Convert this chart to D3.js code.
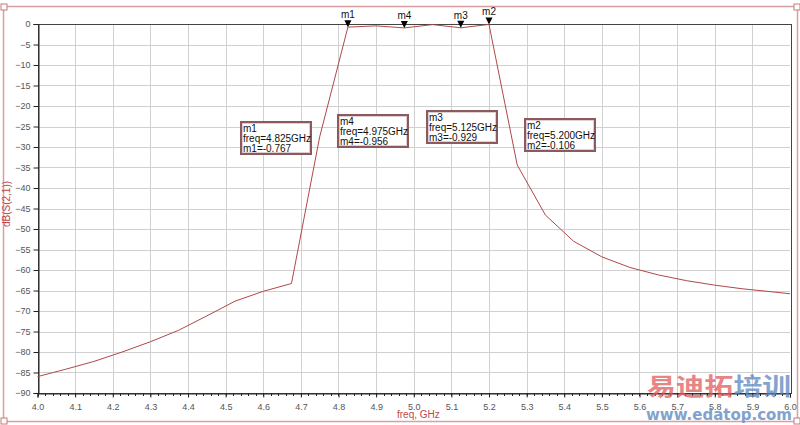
<!DOCTYPE html>
<html>
<head>
<meta charset="utf-8">
<script src="https://cdn.jsdelivr.net/npm/d3@7/dist/d3.min.js"></script>
<style>
    body { margin: 0; background: #fff; }
    svg { display: block; font-family: "Liberation Sans", Arial, sans-serif; }
    .grid line { stroke: #d0d0d0; stroke-width: 1; }
    .axis text { fill: #555; font-size: 9px; }
    .line { fill: none; stroke: #b04848; stroke-width: 1; }
</style>
</head>
<body>
<div id="chart"></div>
<script>
// frequency samples (GHz) and dB(S(2,1))
var FREQS = [4.000, 4.075, 4.150, 4.225, 4.300, 4.375, 4.450, 4.525, 4.600, 4.675,
             4.750, 4.825, 4.900, 4.975, 5.050, 5.125, 5.200, 5.275, 5.350, 5.425,
             5.500, 5.575, 5.650, 5.725, 5.800, 5.875, 5.950, 6.000];
var S21 = [-86.0, -84.2, -82.3, -80.0, -77.5, -74.7, -71.2, -67.6, -65.2, -63.3,
           -27.5, -0.767, -0.45, -0.956, -0.15, -0.929, -0.106, -34.4, -46.6, -53.0,
           -56.8, -59.4, -61.2, -62.6, -63.7, -64.6, -65.3, -65.8];

// markers
var MARKER_NAMES = ["m1", "m4", "m3", "m2"];
var MARKER_FREQS = [4.825, 4.975, 5.125, 5.200];
var MARKER_VALUES = [-0.767, -0.956, -0.929, -0.106];
var MARKER_FREQ_TEXT = ["4.825GHz", "4.975GHz", "5.125GHz", "5.200GHz"];
var MARKER_VALUE_TEXT = ["-0.767", "-0.956", "-0.929", "-0.106"];

// ticks
var X_TICKS = d3.range(0, 21).map(function (i) { return 4 + i / 10; });
var X_MINOR = d3.range(0, 101).map(function (i) { return 4 + i / 50; });
var Y_TICKS = d3.range(0, 19).map(function (i) { return -5 * i; });

var X_LABEL = "freq, GHz";
var Y_LABEL = "dB(S(2,1))";

// where the marker readout boxes sit (pixels, left/top)
var BOX_POS = {
    m1: [241, 122],
    m4: [338, 115],
    m3: [427, 111],
    m2: [525, 119]
};

var width = 800, height = 425;
var plot = {left: 37.5, right: 790, top: 24, bottom: 393};

var svg = d3.select("#chart")
    .append("svg")
        .attr("width", width)
        .attr("height", height);

// outer frame with the little corner handles
svg.append("rect")
    .attr("x", 3.5).attr("y", 6.5)
    .attr("width", 794).attr("height", 415)
    .attr("fill", "none")
    .attr("stroke", "#d9a0a0")
    .attr("stroke-width", 1.5);
[[4, 7], [797, 7], [4, 421], [797, 421]].forEach(function (c) {
    svg.append("rect")
        .attr("x", c[0] - 3).attr("y", c[1] - 3)
        .attr("width", 6).attr("height", 6)
        .attr("fill", "#fff")
        .attr("stroke", "#c87878")
        .attr("stroke-width", 1);
});

var x = d3.scaleLinear().domain([4, 6]).range([plot.left, plot.right]);
var y = d3.scaleLinear().domain([-90, 0]).range([plot.bottom, plot.top]);

// grid
var grid = svg.append("g").attr("class", "grid");
grid.selectAll("line.v")
    .data(X_TICKS.slice(1, -1))
    .enter().append("line")
    .attr("class", "v")
    .attr("x1", function (d) { return Math.round(x(d)) + 0.5; })
    .attr("x2", function (d) { return Math.round(x(d)) + 0.5; })
    .attr("y1", plot.top).attr("y2", plot.bottom);
grid.selectAll("line.h")
    .data(Y_TICKS.slice(1, -1))
    .enter().append("line")
    .attr("class", "h")
    .attr("y1", function (d) { return Math.round(y(d)) + 0.5; })
    .attr("y2", function (d) { return Math.round(y(d)) + 0.5; })
    .attr("x1", plot.left).attr("x2", plot.right);

// plot border
svg.append("rect")
    .attr("x", Math.round(plot.left) + 0.5).attr("y", plot.top + 0.5)
    .attr("width", Math.round(plot.right - plot.left)).attr("height", plot.bottom - plot.top)
    .attr("fill", "none")
    .attr("stroke", "#444")
    .attr("stroke-width", 1);

// X axis: majors with labels, minors below
var xAxis = d3.axisBottom(x)
    .tickValues(X_TICKS)
    .tickSize(4)
    .tickPadding(6)
    .tickFormat(d3.format(".1f"));
var gx = svg.append("g")
    .attr("class", "x axis")
    .attr("transform", "translate(0," + (plot.bottom + 0.5) + ")")
    .call(xAxis);
gx.select(".domain").attr("stroke", "#222");
gx.selectAll(".tick line").attr("stroke", "#222");

svg.append("g")
    .attr("class", "x minor")
    .attr("transform", "translate(0," + (plot.bottom + 0.5) + ")")
    .selectAll("line")
    .data(X_MINOR)
    .enter().append("line")
    .attr("x1", function (d) { return Math.round(x(d)) + 0.5; })
    .attr("x2", function (d) { return Math.round(x(d)) + 0.5; })
    .attr("y1", 0).attr("y2", 2.5)
    .attr("stroke", "#222");

// Y axis
var yAxis = d3.axisLeft(y)
    .tickValues(Y_TICKS)
    .tickSize(5)
    .tickPadding(3)
    .tickFormat(d3.format("d"));
var gy = svg.append("g")
    .attr("class", "y axis")
    .attr("transform", "translate(" + (Math.round(plot.left) + 0.5) + ",0)")
    .call(yAxis);
gy.select(".domain").attr("stroke", "#222");
gy.selectAll(".tick line").attr("stroke", "#222");

// axis titles
svg.append("text")
    .attr("x", 397).attr("y", 418)
    .attr("font-size", 10)
    .attr("fill", "#c04848")
    .text(X_LABEL);
svg.append("text")
    .attr("transform", "translate(10,204) rotate(-90)")
    .attr("text-anchor", "middle")
    .attr("font-size", 10)
    .attr("fill", "#c04848")
    .text(Y_LABEL);

// the trace
var data = FREQS.map(function (f, i) { return {f: f, v: S21[i]}; });
var valueline = d3.line()
    .x(function (d) { return x(d.f); })
    .y(function (d) { return y(d.v); });
svg.append("path")
    .datum(data)
    .attr("class", "line")
    .attr("d", valueline);

// watermark (sits over the tick labels, as in the original)
svg.append("text")
    .attr("x", 647).attr("y", 395)
    .attr("font-size", 24)
    .attr("font-weight", "bold")
    .attr("font-family", "Noto Sans CJK SC")
    .attr("textLength", 144)
    .attr("lengthAdjust", "spacingAndGlyphs")
    .attr("opacity", 0.75)
    .selectAll("tspan")
    .data([["易迪拓", "#e25b5b"], ["培训", "#5a86c0"]])
    .enter().append("tspan")
    .attr("fill", function (d) { return d[1]; })
    .text(function (d) { return d[0]; });
svg.append("text")
    .attr("x", 646).attr("y", 420)
    .attr("font-size", 16)
    .attr("font-weight", "bold")
    .attr("font-family", "DejaVu Sans")
    .attr("textLength", 146)
    .attr("lengthAdjust", "spacingAndGlyphs")
    .attr("fill", "#6d92c6")
    .attr("opacity", 0.85)
    .text("www.edatop.com");

// marker triangles and names
var markers = MARKER_NAMES.map(function (n, i) {
    return {name: n, f: MARKER_FREQS[i], v: MARKER_VALUES[i],
            ftxt: MARKER_FREQ_TEXT[i], vtxt: MARKER_VALUE_TEXT[i]};
});
var gm = svg.selectAll("g.marker")
    .data(markers)
    .enter().append("g")
    .attr("class", "marker")
    .attr("transform", function (d) { return "translate(" + x(d.f) + "," + y(d.v) + ")"; });
gm.append("path")
    .attr("d", "M0,0L-3.5,-7L3.5,-7Z")
    .attr("fill", "#000");
gm.append("text")
    .attr("y", -9)
    .attr("text-anchor", "middle")
    .attr("font-size", 10)
    .attr("fill", "#111")
    .text(function (d) { return d.name; });

// readout boxes
var gb = svg.selectAll("g.box")
    .data(markers)
    .enter().append("g")
    .attr("class", "box")
    .attr("transform", function (d) { return "translate(" + BOX_POS[d.name][0] + "," + BOX_POS[d.name][1] + ")"; });
gb.append("rect")
    .attr("width", 70).attr("height", 32)
    .attr("fill", "#fff")
    .attr("stroke", "#8c5a5e")
    .attr("stroke-width", 2);
gb.append("rect")
    .attr("x", 1.5).attr("y", 1.5)
    .attr("width", 67).attr("height", 29)
    .attr("fill", "none")
    .attr("stroke", "#d8c4c4")
    .attr("stroke-width", 0.8);
gb.each(function (d) {
    var lines = [d.name, "freq=" + d.ftxt, d.name + "=" + d.vtxt];
    d3.select(this).selectAll("text")
        .data(lines)
        .enter().append("text")
        .attr("x", 2)
        .attr("y", function (t, i) { return 10 + i * 10; })
        .attr("font-size", 10)
        .attr("fill", "#111")
        .text(function (t) { return t; });
});
</script>
</body>
</html>
